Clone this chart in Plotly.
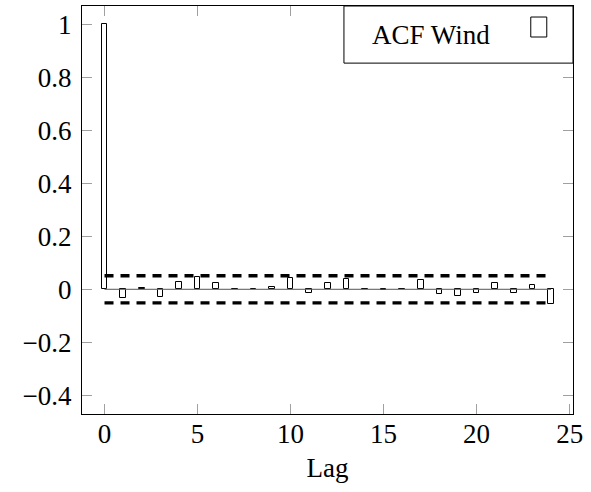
import plotly.graph_objects as go

# Autocorrelation of the wind series, lags 0..24
lags = list(range(25))
acf_wind = [1.0, -0.032, 0.006, -0.030, 0.029, 0.048, 0.025, 0.002, 0.001,
            0.010, 0.044, -0.013, 0.022, 0.039, 0.001, -0.003, 0.002, 0.035,
            -0.019, -0.025, -0.014, 0.024, -0.013, 0.018, -0.054]
conf_band = 0.051          # +/- confidence bound
series_name = "ACF Wind"
x_title = "Lag"
x_ticks = [0, 5, 10, 15, 20, 25]
y_ticks = [-0.4, -0.2, 0, 0.2, 0.4, 0.6, 0.8, 1]
y_ticklabels = ["\u22120.4", "\u22120.2", "0", "0.2", "0.4", "0.6", "0.8", "1"]

FONT = "Liberation Serif, serif"
FSIZE = 27

fig = go.Figure()

# baseline under the bars
fig.add_trace(go.Scatter(
    x=[lags[0], lags[-1]], y=[0, 0], mode="lines",
    line=dict(color="#555555", width=1), hoverinfo="skip", showlegend=False))

fig.add_trace(go.Bar(
    x=lags, y=acf_wind, name=series_name, width=0.3,
    marker=dict(color="white", line=dict(color="black", width=1)),
    showlegend=False))

# confidence bounds
for s in (1, -1):
    fig.add_trace(go.Scatter(
        x=[lags[0], lags[-1]], y=[s * conf_band, s * conf_band], mode="lines",
        line=dict(color="black", width=3.3, dash="9px,7px"),
        hoverinfo="skip", showlegend=False))

axis_common = dict(
    showline=True, linecolor="black", linewidth=1, mirror="ticks",
    ticks="inside", ticklen=10, tickcolor="#a0a0a0", tickwidth=1,
    showgrid=False, zeroline=False,
    tickfont=dict(family=FONT, size=FSIZE, color="black"),
)

fig.update_layout(
    width=591, height=492,
    margin=dict(l=82, r=18, t=6, b=78),
    paper_bgcolor="white", plot_bgcolor="white",
    bargap=0,
    font=dict(family=FONT, size=FSIZE, color="black"),
    xaxis=dict(range=[-1.21, 25.18], tickvals=x_ticks,
               title=dict(text=x_title, font=dict(family=FONT, size=FSIZE), standoff=9),
               ticklabelstandoff=-4, **axis_common),
    yaxis=dict(range=[-0.4706, 1.069], tickvals=y_ticks, ticktext=y_ticklabels,
               ticklabelstandoff=4, **axis_common),
    showlegend=False,
)

# legend box in the upper-right corner
fig.add_shape(type="rect", xref="paper", yref="paper",
              x0=0.5335, x1=1.0, y0=0.860, y1=1.0,
              line=dict(color="black", width=1), fillcolor="white", layer="above")
fig.add_shape(type="rect", xref="paper", yref="paper",
              x0=0.9140, x1=0.9466, y0=0.924, y1=0.973,
              line=dict(color="black", width=1), fillcolor="white", layer="above")
fig.add_annotation(text=series_name, xref="paper", yref="paper",
                   x=0.5865, y=0.928, xanchor="left", yanchor="middle",
                   showarrow=False, font=dict(family=FONT, size=FSIZE, color="black"))

fig.write_html("out.html")
